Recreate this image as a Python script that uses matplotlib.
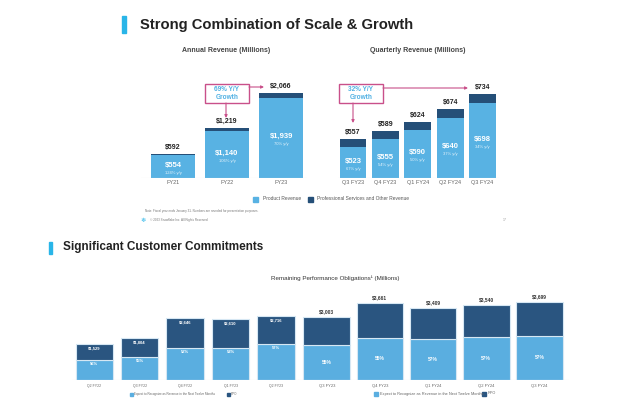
import matplotlib
matplotlib.use('Agg')
import matplotlib.pyplot as plt
from matplotlib.patches import Rectangle, FancyArrowPatch

plt.rcParams['font.family'] = ['Liberation Sans', 'DejaVu Sans']

# annual revenue (millions)
years = ['FY21', 'FY22', 'FY23']
year_total = [592, 1219, 2066]
year_product = [554, 1140, 1939]
year_growth = ['124% y/y', '106% y/y', '70% y/y']

# quarterly revenue (millions)
quarters = ['Q3 FY23', 'Q4 FY23', 'Q1 FY24', 'Q2 FY24', 'Q3 FY24']
q_total = [557, 589, 624, 674, 734]
q_product = [523, 555, 590, 640, 698]
q_growth = ['67% y/y', '54% y/y', '50% y/y', '37% y/y', '34% y/y']

# remaining performance obligations (millions)
rpo_q_old = ['Q2 FY22', 'Q3 FY22', 'Q4 FY22', 'Q1 FY23', 'Q2 FY23']
rpo_old = [1529, 1804, 2646, 2610, 2716]
rpo_old_pct = [56, 55, 52, 53, 57]
rpo_q_new = ['Q3 FY23', 'Q4 FY23', 'Q1 FY24', 'Q2 FY24', 'Q3 FY24']
rpo_new = [3003, 3661, 3409, 3540, 3699]
rpo_new_pct = [55, 55, 57, 57, 57]

LIGHT = '#58b2e3'
DARK = '#254f78'
PINK = '#c9508a'
ACCENT = '#29b5e8'

W, H = 640, 407
fig = plt.figure(figsize=(W / 100, H / 100), dpi=100)


def P(x, y):
    return (x / W, 1 - y / H)


def make_ax(l, t, r, b):
    ax = fig.add_axes([l / W, 1 - b / H, (r - l) / W, (b - t) / H])
    ax.patch.set_visible(False)
    for s in ax.spines.values():
        s.set_visible(False)
    ax.set_yticks([])
    ax.tick_params(axis='x', length=0, pad=1.5, labelsize=4, labelcolor='#666666')
    return ax


def box_arrows(cx, cy, text, segs):
    fig.add_artist(Rectangle(P(cx - 22, cy + 9.5), 44 / W, 19 / H, transform=fig.transFigure,
                             facecolor='white', edgecolor=PINK, lw=1.0))
    fig.text(*P(cx, cy), text, ha='center', va='center', fontsize=4.7, color='#4fb0e3',
             fontweight='bold', linespacing=1.3)
    for (x0, y0, x1, y1) in segs:
        fig.add_artist(FancyArrowPatch(P(x0, y0), P(x1, y1), transform=fig.transFigure,
                                       arrowstyle='-|>', mutation_scale=4, color=PINK, lw=0.8,
                                       shrinkA=0, shrinkB=0))


# ---------- top slide ----------
fig.add_artist(Rectangle(P(122, 33), 3.5 / W, 17 / H, transform=fig.transFigure, color=ACCENT))
fig.text(*P(140, 24.5), 'Strong Combination of Scale & Growth', fontsize=10.6, fontweight='bold',
         color='#222222', va='center')
fig.text(*P(226, 50), 'Annual Revenue (Millions)', fontsize=5, color='#444444',
         fontweight='bold', ha='center', va='center')
fig.text(*P(418, 50), 'Quarterly Revenue (Millions)', fontsize=5, color='#444444',
         fontweight='bold', ha='center', va='center')

# annual
ax1 = make_ax(140.6, 60, 307, 178)
x1 = range(len(years))
other1 = [t - p for t, p in zip(year_total, year_product)]
ax1.bar(x1, year_product, width=0.83, color=LIGHT)
ax1.bar(x1, other1, bottom=year_product, width=0.83, color=DARK)
ax1.set_xlim(-0.6, 2.48)
ax1.set_ylim(0, 118 / 0.0411)
ax1.axhline(0, color='#dddddd', lw=0.8)
ax1.set_xticks(list(x1))
ax1.set_xticklabels(years)
for i in x1:
    ax1.annotate(f'${year_total[i]:,}', (i, year_total[i]), xytext=(0, 2), textcoords='offset points',
                 ha='center', va='bottom', fontsize=5, fontweight='bold', color='#222222')
    ax1.annotate(f'${year_product[i]:,}', (i, year_product[i] / 2), xytext=(0, 1),
                 textcoords='offset points', ha='center', va='center', fontsize=5.5,
                 fontweight='bold', color='white')
    ax1.annotate(year_growth[i], (i, year_product[i] / 2), xytext=(0, -4.5),
                 textcoords='offset points', ha='center', va='center', fontsize=3, color='#e8f4fb')

# quarterly
base = 401
ax2 = make_ax(338.4, 60, 498.8, 178)
x2 = range(len(quarters))
other2 = [t - p for t, p in zip(q_total, q_product)]
ax2.bar(x2, q_product, width=0.83, color=LIGHT)
ax2.bar(x2, other2, bottom=q_product, width=0.83, color=DARK)
ax2.set_xlim(-0.45, 4.5)
ax2.set_ylim(base, base + 118 / 0.2525)
ax2.axhline(base, color='#dddddd', lw=0.8)
ax2.set_xticks(list(x2))
ax2.set_xticklabels(quarters)
for i in x2:
    mid = (base + q_product[i]) / 2
    ax2.annotate(f'${q_total[i]:,}', (i, q_total[i]), xytext=(0, 2), textcoords='offset points',
                 ha='center', va='bottom', fontsize=5, fontweight='bold', color='#222222')
    ax2.annotate(f'${q_product[i]:,}', (i, mid), xytext=(0, 1), textcoords='offset points',
                 ha='center', va='center', fontsize=5.5, fontweight='bold', color='white')
    ax2.annotate(q_growth[i], (i, mid), xytext=(0, -4.5), textcoords='offset points',
                 ha='center', va='center', fontsize=3, color='#e8f4fb')

box_arrows(227, 93.5, '69% Y/Y\nGrowth', [(226, 103, 226, 118), (249, 87, 264, 87)])
box_arrows(361, 93.5, '32% Y/Y\nGrowth', [(353, 103, 353, 123), (383, 88, 468, 88)])

# legend + footer
fig.add_artist(Rectangle(P(253, 201.5), 5 / W, 5 / H, transform=fig.transFigure, color=LIGHT))
fig.text(*P(263, 199), 'Product Revenue', fontsize=3.5, color='#555555', va='center')
fig.add_artist(Rectangle(P(308, 201.5), 5 / W, 5 / H, transform=fig.transFigure, color=DARK))
fig.text(*P(317, 199), 'Professional Services and Other Revenue', fontsize=3.5, color='#555555',
         va='center')
fig.text(*P(145, 211), 'Note: Fiscal year ends January 31. Numbers are rounded for presentation purposes.',
         fontsize=2.2, color='#777777', va='center')
fig.text(*P(143.5, 220), '\u2744', fontsize=4.5, color=ACCENT, ha='center', va='center',
         family=['DejaVu Sans'])
fig.text(*P(150, 220), '\u00a9 2023 Snowflake Inc. All Rights Reserved', fontsize=2.2,
         color='#777777', va='center')
fig.text(*P(503, 220), '17', fontsize=2.5, color='#999999', va='center')

# ---------- bottom slide ----------
fig.add_artist(Rectangle(P(49, 254), 2.5 / W, 12 / H, transform=fig.transFigure, color=ACCENT))
fig.text(*P(63, 247), 'Significant Customer Commitments', fontsize=8.5, fontweight='bold',
         color='#222222', va='center')
fig.text(*P(335, 278), 'Remaining Performance Obligations\u00b9 (Millions)', fontsize=4.5,
         color='#333333', ha='center', va='center')

LIGHT2 = '#5aaee0'
DARK2 = '#2a5580'

ax3 = make_ax(71.6, 290, 298.7, 380)
x3 = range(len(rpo_q_old))
ntm3 = [t * p / 100 for t, p in zip(rpo_old, rpo_old_pct)]
rest3 = [t - n for t, n in zip(rpo_old, ntm3)]
ax3.bar(x3, ntm3, width=0.826, color=LIGHT2, edgecolor='#d6e7f3', lw=0.8)
ax3.bar(x3, rest3, bottom=ntm3, width=0.826, color=DARK2, edgecolor='#d6e7f3', lw=0.8)
ax3.set_xlim(-0.5, 4.5)
ax3.set_ylim(0, 90 / 0.0234)
ax3.axhline(0, color='#e3e3e3', lw=0.8)
ax3.set_xticks(list(x3))
ax3.set_xticklabels(rpo_q_old, fontsize=2.5)
ax3.tick_params(axis='x', pad=3)
for i in x3:
    ax3.annotate(f'${rpo_old[i]:,}', (i, rpo_old[i]), xytext=(0, -3), textcoords='offset points',
                 ha='center', va='center', fontsize=3, fontweight='bold', color='white')
    ax3.annotate(f'{rpo_old_pct[i]}%', (i, ntm3[i]), xytext=(0, -3), textcoords='offset points',
                 ha='center', va='center', fontsize=3, fontweight='bold', color='white')

ax4 = make_ax(297.5, 290, 568.7, 380)
x4 = range(len(rpo_q_new))
ntm4 = [t * p / 100 for t, p in zip(rpo_new, rpo_new_pct)]
rest4 = [t - n for t, n in zip(rpo_new, ntm4)]
ax4.bar(x4, ntm4, width=0.88, color=LIGHT2, edgecolor='#d6e7f3', lw=0.8)
ax4.bar(x4, rest4, bottom=ntm4, width=0.88, color=DARK2, edgecolor='#d6e7f3', lw=0.8)
ax4.set_xlim(-0.55, 4.55)
ax4.set_ylim(0, 90 / 0.0211)
ax4.axhline(0, color='#e3e3e3', lw=0.8)
ax4.set_xticks(list(x4))
ax4.set_xticklabels(rpo_q_new, fontsize=3)
ax4.tick_params(axis='x', pad=3)
for i in x4:
    ax4.annotate(f'${rpo_new[i]:,}', (i, rpo_new[i]), xytext=(0, 2), textcoords='offset points',
                 ha='center', va='bottom', fontsize=3.5, fontweight='bold', color='#333333')
    ax4.annotate(f'{rpo_new_pct[i]}%', (i, ntm4[i] / 2), ha='center', va='center',
                 fontsize=3.5, fontweight='bold', color='white')

# bottom legends
fig.add_artist(Rectangle(P(130, 395.5), 2.5 / W, 2.5 / H, transform=fig.transFigure, color=LIGHT2))
fig.text(*P(134, 394), 'Expect to Recognize as Revenue in the Next Twelve Months', fontsize=2.2,
         color='#666666', va='center')
fig.add_artist(Rectangle(P(227, 395.5), 2.5 / W, 2.5 / H, transform=fig.transFigure, color=DARK2))
fig.text(*P(231, 394), 'RPO', fontsize=2.2, color='#666666', va='center')

fig.add_artist(Rectangle(P(374, 395.5), 4 / W, 4 / H, transform=fig.transFigure, color=LIGHT2))
fig.text(*P(380, 393.5), 'Expect to Recognize as Revenue in the Next Twelve Months', fontsize=2.8,
         color='#666666', va='center')
fig.add_artist(Rectangle(P(482, 395.5), 4 / W, 4 / H, transform=fig.transFigure, color=DARK2))
fig.text(*P(488, 393.5), 'RPO', fontsize=2.8, color='#666666', va='center')

fig.savefig('out.png', dpi=100, facecolor='white')
